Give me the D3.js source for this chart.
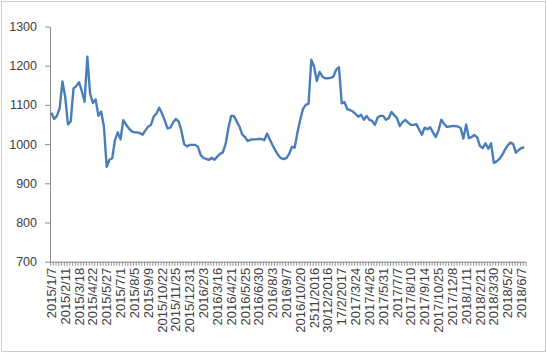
<!DOCTYPE html>
<html lang="en">
<head>
    <meta charset="UTF-8">
    <title>Weekly price</title>
    <script src="https://d3js.org/d3.v7.min.js"></script>
    <style type="text/css">
        body { margin: 0; background: #ffffff; }
        .axis text {
            font: 12.5px "Liberation Sans", Arial, sans-serif;
            fill: #404040;
        }
        .axis path, .axis line {
            stroke: #8c8c8c;
        }
        .xlabels text {
            font-size: 13px;
        }
    </style>
</head>
<body>
<svg id="chart"></svg>

<script>
// Weekly values (one per week)
var values = [1080,1064,1072,1092,1160,1120,1050,1058,1142,1148,
    1158,1135,1108,1223,1128,1105,1114,1072,1083,1045,
    942,960,964,1010,1030,1012,1061,1050,1040,1033,
    1030,1030,1028,1024,1035,1044,1049,1070,1078,1093,
    1078,1060,1040,1042,1055,1064,1058,1035,1000,994,
    998,998,998,993,972,965,962,960,965,960,
    968,975,979,1000,1040,1072,1072,1058,1045,1025,
    1018,1008,1011,1012,1012,1013,1013,1010,1027,1012,
    997,984,972,964,962,964,975,993,991,1030,
    1062,1090,1100,1103,1215,1198,1161,1184,1172,1168,
    1168,1169,1172,1190,1196,1104,1107,1089,1087,1083,
    1077,1070,1075,1062,1072,1062,1059,1049,1068,1072,
    1072,1062,1066,1082,1074,1066,1046,1056,1062,1055,
    1049,1049,1051,1037,1024,1042,1038,1043,1030,1018,
    1035,1062,1052,1044,1045,1046,1046,1045,1041,1014,
    1050,1015,1018,1023,1017,995,990,1002,988,1002,
    952,956,962,972,985,996,1004,1000,978,985,
    990,992];

// Category labels shown on the axis (every 5th week)
var tickLabels = ["2015/1/7","2015/2/11","2015/3/18","2015/4/22","2015/5/27",
    "2015/7/1","2015/8/5","2015/9/9","2015/10/22","2015/11/25","2015/12/31",
    "2016/2/3","2016/3/16","2016/4/21","2016/5/25","2016/6/30","2016/8/3",
    "2016/9/7","2016/10/20","2511/2016","30/12/2016","17/2/2017","2017/3/24",
    "2017/4/26","2017/5/31","2017/7/7","2017/8/10","2017/9/14","2017/10/25",
    "2017/12/8","2018/1/11","2018/2/21","2018/3/30","2018/5/2","2018/6/7"];
var labelStep = 5;

var yTicks = [700, 800, 900, 1000, 1100, 1200, 1300];

var svgWidth = 547;
var svgHeight = 353;
var plotLeft = 50, plotRight = 525.6, plotTop = 26.5, plotBottom = 261.7;

var svg = d3.select("#chart")
    .attr("width", svgWidth)
    .attr("height", svgHeight);

// dotted outer border
svg.append("rect")
    .attr("x", 1.5).attr("y", 1.5)
    .attr("width", 544).attr("height", 350)
    .attr("fill", "none")
    .attr("stroke", "#9a9a9a")
    .attr("stroke-dasharray", "1,1");

var idx = d3.range(values.length);
var xs = d3.scaleBand().domain(idx).range([plotLeft, plotRight]).padding(0);
var xb = d3.scaleLinear().domain([0, values.length]).range([plotLeft, plotRight]);
var ys = d3.scaleLinear().domain([700, 1300]).range([plotBottom, plotTop]);

// y axis
svg.append("g")
    .attr("class", "axis")
    .attr("transform", "translate(" + plotLeft + ",0)")
    .call(d3.axisLeft(ys).tickValues(yTicks).tickFormat(d3.format("d"))
        .tickSize(5).tickPadding(8).tickSizeOuter(0));

// x axis: a tick at every category boundary
svg.append("g")
    .attr("class", "axis")
    .attr("transform", "translate(0," + plotBottom + ")")
    .call(d3.axisBottom(xb).tickValues(d3.range(values.length + 1)).tickSize(4).tickFormat("").tickSizeOuter(0));

// x labels, rotated
var labelIdx = idx.filter(function(i) { return i % labelStep == 0; });
var xl = svg.append("g")
    .attr("class", "axis xlabels")
    .attr("transform", "translate(0," + plotBottom + ")")
    .call(d3.axisBottom(xs).tickValues(labelIdx).tickSize(0)
        .tickFormat(function(i) { return tickLabels[i / labelStep]; }));
xl.select(".domain").remove();
xl.selectAll("text")
    .attr("transform", "rotate(-90)")
    .attr("text-anchor", "end")
    .attr("x", -6)
    .attr("y", 0)
    .attr("dy", "0.35em");

// the line
var line = d3.line()
    .x(function(d, i) { return xs(i) + xs.bandwidth() / 2; })
    .y(function(d) { return ys(d); });

svg.append("path")
    .datum(values)
    .attr("d", line)
    .attr("fill", "none")
    .attr("stroke", "#4a7ebb")
    .attr("stroke-width", 2.4)
    .attr("stroke-linejoin", "round");
</script>
</body>
</html>
